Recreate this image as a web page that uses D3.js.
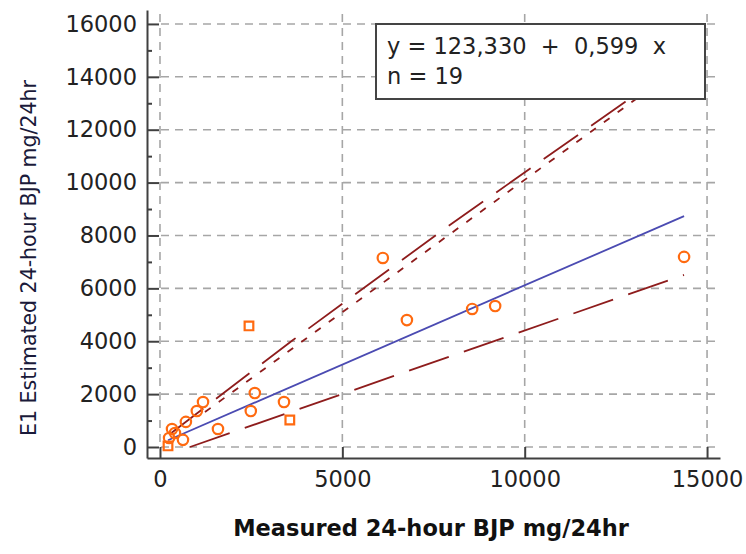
<!DOCTYPE html>
<html>
<head>
<meta charset="utf-8">
<script src="https://cdn.jsdelivr.net/npm/d3@7"></script>
<style>
  body { margin: 0; background: #fff; }
  svg { display: block; }
  .tick text { font-family: "DejaVu Sans", sans-serif; font-size: 22.5px; fill: #222; }
</style>
</head>
<body>
<script>
const measured  = [220, 250, 330, 410, 630, 710, 1010, 1180, 1590, 2490, 2600, 3400, 3560, 2440, 6110, 6770, 8560, 9190, 14370]
const estimated = [40, 340, 680, 530, 270, 950, 1360, 1700, 680, 1360, 2040, 1700, 1020, 4580, 7150, 4800, 5220, 5330, 7190]
const markerShape = ["square", "circle", "circle", "circle", "circle", "circle", "circle", "circle", "circle", "circle", "circle", "circle", "square", "square", "circle", "circle", "circle", "circle", "circle"]

// regression from the legend
const intercept = 123.330
const slope = 0.599
const nObs = 19

// dashed reference lines (x, y pairs)
const upperLongX = [274, 3647, 7869, 12750, 14368]
const upperLongY = [492, 4047, 8320, 13048, 14598]
const upperShortX = [1234, 14368]
const upperShortY = [1324, 14479]
const lowerX = [823, 14368]
const lowerY = [0, 6506]

const xTicks = [0, 5000, 10000, 15000]
const yTicks = [0, 2000, 4000, 6000, 8000, 10000, 12000, 14000, 16000]
const yMinor = [1000, 3000, 5000, 7000, 9000, 11000, 13000, 15000]

const width = 746
const height = 554
const plot = { left: 147, right: 720, top: 10, bottom: 458 }

const xScale = d3.scaleLinear().domain([-356, 15355]).range([plot.left, plot.right])
const yScale = d3.scaleLinear().domain([-416, 16527]).range([plot.bottom, plot.top])

const svg = d3.select("body").append("svg")
  .attr("width", width)
  .attr("height", height)

// grid
svg.append("g").selectAll("line")
  .data(yTicks)
  .enter().append("line")
  .attr("x1", plot.left + 14).attr("x2", plot.right - 2)
  .attr("y1", d => yScale(d)).attr("y2", d => yScale(d))
  .attr("stroke", "#a6a6a6").attr("stroke-width", 1.6)
  .attr("stroke-dasharray", "8,6")

svg.append("g").selectAll("line")
  .data(xTicks)
  .enter().append("line")
  .attr("x1", d => xScale(d)).attr("x2", d => xScale(d))
  .attr("y1", plot.top + 4).attr("y2", plot.bottom - 12)
  .attr("stroke", "#a6a6a6").attr("stroke-width", 1.6)
  .attr("stroke-dasharray", "8,6")

// lines
const line = d3.line().x(d => xScale(d[0])).y(d => yScale(d[1]))
const zip = (a, b) => a.map((v, i) => [v, b[i]])

const xMin = d3.min(measured), xMax = d3.max(measured)
svg.append("path")
  .attr("d", line([[xMin, intercept + slope * xMin], [xMax, intercept + slope * xMax]]))
  .attr("fill", "none").attr("stroke", "#4b4bb2").attr("stroke-width", 1.8)

svg.append("path")
  .attr("d", line(zip(upperLongX, upperLongY)))
  .attr("fill", "none").attr("stroke", "#8e1c1c").attr("stroke-width", 1.8)
  .attr("stroke-dasharray", "42,16")

svg.append("path")
  .attr("d", line(zip(upperShortX, upperShortY)))
  .attr("fill", "none").attr("stroke", "#8e1c1c").attr("stroke-width", 1.8)
  .attr("stroke-dasharray", "7,10")

svg.append("path")
  .attr("d", line(zip(lowerX, lowerY)))
  .attr("fill", "none").attr("stroke", "#8e1c1c").attr("stroke-width", 1.8)
  .attr("stroke-dasharray", "42,16")

// points
const symbols = { circle: d3.symbolCircle, square: d3.symbolSquare }
svg.append("g").selectAll("path")
  .data(measured.map((m, i) => ({ x: m, y: estimated[i], s: markerShape[i] })))
  .enter().append("path")
  .attr("transform", d => `translate(${xScale(d.x)},${yScale(d.y)})`)
  .attr("d", d => d3.symbol().type(symbols[d.s]).size(d.s === "square" ? 75 : 85)())
  .attr("fill", "none")
  .attr("stroke", "#ff6a10")
  .attr("stroke-width", 2.2)

// axes
const yAxis = d3.axisLeft(yScale).tickValues(yTicks).tickSizeInner(-12).tickSizeOuter(0)
  .tickPadding(10).tickFormat(d3.format("d"))
const yAxisG = svg.append("g").attr("transform", `translate(${plot.left},0)`).call(yAxis)

const yMinorG = svg.append("g").attr("transform", `translate(${plot.left},0)`)
  .call(d3.axisLeft(yScale).tickValues(yMinor).tickSizeInner(-5).tickSizeOuter(0).tickFormat(""))
yMinorG.select(".domain").remove()

const xAxis = d3.axisBottom(xScale).tickValues(xTicks).tickSizeInner(-11).tickSizeOuter(0)
  .tickPadding(13).tickFormat(d3.format("d"))
const xAxisG = svg.append("g").attr("transform", `translate(0,${plot.bottom})`).call(xAxis)

svg.selectAll(".domain, .tick line").attr("stroke", "#404040").attr("stroke-width", 2)

// legend box
const legend = svg.append("g")
legend.append("rect")
  .attr("x", 376).attr("y", 24).attr("width", 329).attr("height", 75)
  .attr("fill", "#fff").attr("stroke", "#444").attr("stroke-width", 2)
legend.append("text")
  .attr("x", 387).attr("y", 54)
  .style("font-family", "DejaVu Sans").style("font-size", "22.5px").style("fill", "#222")
  .attr("xml:space", "preserve")
  .text(`y = ${intercept.toFixed(3).replace(".", ",")}  +  ${slope.toFixed(3).replace(".", ",")}  x`)
legend.append("text")
  .attr("x", 387).attr("y", 84)
  .style("font-family", "DejaVu Sans").style("font-size", "22.5px").style("fill", "#222")
  .text(`n = ${nObs}`)

// titles
svg.append("text")
  .attr("x", 431).attr("y", 536)
  .attr("text-anchor", "middle")
  .style("font-family", "DejaVu Sans").style("font-size", "22.5px").style("font-weight", "bold").style("fill", "#111")
  .text("Measured 24-hour BJP mg/24hr")

svg.append("text")
  .attr("transform", "translate(36,258) rotate(-90)")
  .attr("text-anchor", "middle")
  .style("font-family", "DejaVu Sans").style("font-size", "20.5px").style("fill", "#1a1a3a")
  .text("E1 Estimated 24-hour BJP mg/24hr")
</script>
</body>
</html>
